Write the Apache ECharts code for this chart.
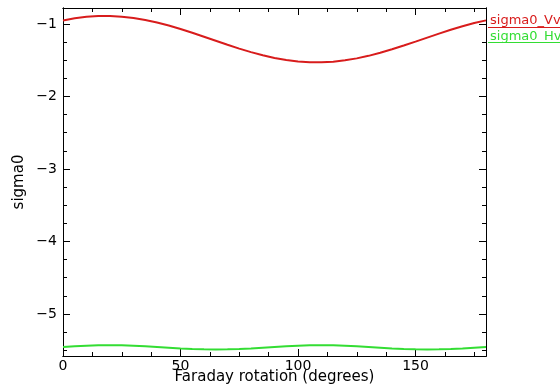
<!DOCTYPE html>
<html><head><meta charset="utf-8">
<script src="https://cdn.jsdelivr.net/npm/echarts@6/dist/echarts.min.js"></script>
<style>html,body{margin:0;padding:0;background:#fff}#c{width:560px;height:388px}</style>
</head><body><div id="c"></div>
<script>
const xDeg = [0,5,10,15,20,25,30,35,40,45,50,55,60,65,70,75,80,85,90,95,100,105,110,115,120,125,130,135,140,145,150,155,160,165,170,175,180];
const sigmaVv = [-0.951,-0.922,-0.902,-0.892,-0.891,-0.900,-0.918,-0.945,-0.980,-1.022,-1.070,-1.122,-1.177,-1.232,-1.287,-1.340,-1.389,-1.432,-1.469,-1.498,-1.518,-1.528,-1.529,-1.520,-1.502,-1.475,-1.440,-1.398,-1.350,-1.298,-1.244,-1.188,-1.133,-1.080,-1.031,-0.988,-0.951];
const sigmaHv = [-5.455,-5.445,-5.437,-5.432,-5.430,-5.432,-5.437,-5.445,-5.455,-5.465,-5.475,-5.483,-5.488,-5.490,-5.488,-5.483,-5.475,-5.465,-5.455,-5.445,-5.437,-5.432,-5.430,-5.432,-5.437,-5.445,-5.455,-5.465,-5.475,-5.483,-5.488,-5.490,-5.488,-5.483,-5.475,-5.465,-5.455];
const seriesNames = ["sigma0_Vv'", "sigma0_Hv'"];
const xMajor = [0,50,100,150];
const xMinor = [12.5,25,37.5,62.5,75,87.5,112.5,125,137.5,162.5,175];
const yMajor = [-5,-4,-3,-2,-1];
const yMinor = [-5.5,-5.25,-4.75,-4.5,-4.25,-3.75,-3.5,-3.25,-2.75,-2.5,-2.25,-1.75,-1.5,-1.25,-0.75];
const xRange = [0,180];
const yRange = [-5.58,-0.78];
const xTitle = 'Faraday rotation (degrees)';
const yTitle = 'sigma0';

const FONT = 'DejaVu Sans';
const RED = '#d81c1c', GREEN = '#33dd33';
const chart = echarts.init(document.getElementById('c'), null, {renderer:'canvas'});
function xAx(pos, ticks, len, labels, extra){
  return Object.assign({type:'value', position:pos, min:xRange[0], max:xRange[1],
    axisLine:{show:true, onZero:false, lineStyle:{color:'#000',width:1}},
    axisTick:{show:true, inside:true, length:len, customValues:ticks, lineStyle:{color:'#000',width:1}},
    axisLabel:labels ? {show:true, customValues:xMajor, color:'#000', fontFamily:FONT, fontSize:14, margin:3} : {show:false},
    splitLine:{show:false}}, extra||{});
}
function yAx(pos, ticks, len, labels, extra){
  return Object.assign({type:'value', position:pos, min:yRange[0], max:yRange[1],
    axisLine:{show:true, onZero:false, lineStyle:{color:'#000',width:1}},
    axisTick:{show:true, inside:true, length:len, customValues:ticks, lineStyle:{color:'#000',width:1}},
    axisLabel:labels ? {show:true, customValues:yMajor, color:'#000', fontFamily:FONT, fontSize:14, margin:6,
      formatter: v => (v<0 ? '\u2212' + Math.abs(v) : String(v))} : {show:false},
    splitLine:{show:false}}, extra||{});
}
const option = {
  animation:false,
  backgroundColor:'#fff',
  grid:{left:63, right:74, top:8, bottom:32, containLabel:false, outerBoundsMode:'none'},
  xAxis:[
    xAx('bottom', xMajor, 7, true, {name:xTitle, nameLocation:'middle', nameGap:14, nameMoveOverlap:false,
      nameTextStyle:{color:'#000', fontFamily:FONT, fontSize:15, verticalAlign:'top'}}),
    xAx('bottom', xMinor, 4, false),
    xAx('top', xMajor, 7, false),
    xAx('top', xMinor, 4, false)
  ],
  yAxis:[
    yAx('left', yMajor, 7, true, {name:yTitle, nameLocation:'middle', nameGap:36, nameRotate:90, nameMoveOverlap:false,
      nameTextStyle:{color:'#000', fontFamily:FONT, fontSize:15}}),
    yAx('left', yMinor, 4, false),
    yAx('right', yMajor, 7, false),
    yAx('right', yMinor, 4, false)
  ],
  series:[
    {name:seriesNames[0], type:'line', xAxisIndex:0, yAxisIndex:0, showSymbol:false, symbol:'none',
      data:xDeg.map((x,i)=>[x,sigmaVv[i]]), lineStyle:{color:RED, width:2}, itemStyle:{color:RED}},
    {name:seriesNames[1], type:'line', xAxisIndex:0, yAxisIndex:0, showSymbol:false, symbol:'none',
      data:xDeg.map((x,i)=>[x,sigmaHv[i]]), lineStyle:{color:GREEN, width:2}, itemStyle:{color:GREEN}}
  ],
  graphic:[
    {type:'text', left:490, top:14, style:{text:seriesNames[0], fill:RED, font:'13px "DejaVu Sans"'}},
    {type:'line', shape:{x1:488, y1:27.5, x2:560, y2:27.5}, style:{stroke:RED, lineWidth:1}},
    {type:'text', left:490, top:30, style:{text:seriesNames[1], fill:GREEN, font:'13px "DejaVu Sans"'}},
    {type:'line', shape:{x1:488, y1:42.5, x2:560, y2:42.5}, style:{stroke:GREEN, lineWidth:1}}
  ]
};
chart.setOption(option);
</script>
</body></html>
